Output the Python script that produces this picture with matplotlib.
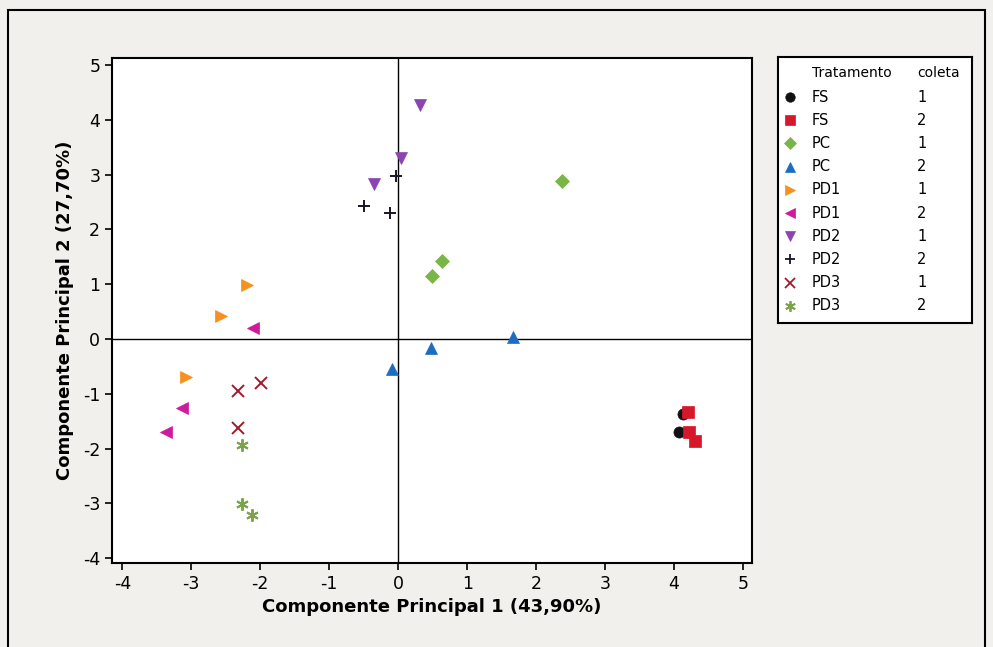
import numpy as np
import matplotlib.pyplot as plt
from matplotlib.patches import Rectangle

plt.rcParams['font.family'] = ['DejaVu Sans']
plt.rcParams['axes.unicode_minus'] = False

# Escores dos componentes principais por tratamento e coleta
fs1_x = [4.07, 4.13]
fs1_y = [-1.70, -1.37]
fs2_x = [4.20, 4.22, 4.30]
fs2_y = [-1.33, -1.70, -1.86]
pc1_x = [2.37, 0.63, 0.49]
pc1_y = [2.88, 1.42, 1.15]
pc2_x = [1.66, 0.47, -0.09]
pc2_y = [0.04, -0.16, -0.55]
pd11_x = [-2.19, -2.57, -3.08]
pd11_y = [0.99, 0.42, -0.69]
pd12_x = [-2.11, -3.13, -3.36]
pd12_y = [0.20, -1.26, -1.70]
pd21_x = [0.32, 0.04, -0.35]
pd21_y = [4.27, 3.30, 2.83]
pd22_x = [-0.03, -0.49, -0.12]
pd22_y = [2.97, 2.43, 2.30]
pd31_x = [-2.33, -1.99, -2.33]
pd31_y = [-0.95, -0.80, -1.62]
pd32_x = [-2.27, -2.27, -2.12]
pd32_y = [-1.93, -3.01, -3.21]

tratamentos = ['FS', 'FS', 'PC', 'PC', 'PD1', 'PD1', 'PD2', 'PD2', 'PD3', 'PD3']
coletas = ['1', '2', '1', '2', '1', '2', '1', '2', '1', '2']

series = [
    (fs1_x, fs1_y, 'o', '#111111', 8),
    (fs2_x, fs2_y, 's', '#d7182a', 8),
    (pc1_x, pc1_y, 'D', '#79b547', 7.5),
    (pc2_x, pc2_y, '^', '#1c6cc2', 9),
    (pd11_x, pd11_y, '>', '#f7901e', 9),
    (pd12_x, pd12_y, '<', '#cc1b9c', 9),
    (pd21_x, pd21_y, 'v', '#8a45b0', 9),
    (pd22_x, pd22_y, '+', '#1a1426', 8),
    (pd31_x, pd31_y, 'x', '#a31a2e', 8),
    (pd32_x, pd32_y, (6, 2, 0), '#7aa34a', 9),
]
linhas = ('+', 'x', (6, 2, 0))

fig = plt.figure(figsize=(9.93, 6.47), dpi=100)
fig.patch.set_facecolor('#f1f0ec')

# moldura externa
fig.add_artist(Rectangle((8 / 993, -0.05), 977 / 993, 1 - 10 / 647 + 0.05,
                         transform=fig.transFigure, fill=False,
                         edgecolor='black', linewidth=1.5))

ax = fig.add_axes([112 / 993, 1 - 563 / 647, 640 / 993, 505 / 647])
ax.set_facecolor('white')

for x, y, m, c, s in series:
    lw = 1.4 if m in linhas else 0.5
    ax.plot(x, y, linestyle='none', marker=m, color=c, markersize=s,
            markeredgewidth=lw, markeredgecolor=c)

ax.axhline(0, color='black', linewidth=1.0, zorder=0)
ax.axvline(0, color='black', linewidth=1.0, zorder=0)

ax.set_xlim(-4.15, 5.13)
ax.set_ylim(-4.09, 5.13)
ax.set_xticks(np.arange(-4, 6, 1))
ax.set_yticks(np.arange(-4, 6, 1))
ax.tick_params(direction='out', length=5, width=1.2, labelsize=12.5)
for sp in ax.spines.values():
    sp.set_linewidth(1.5)

ax.set_xlabel('Componente Principal 1 (43,90%)', fontsize=13, fontweight='bold', labelpad=4)
ax.set_ylabel('Componente Principal 2 (27,70%)', fontsize=13, fontweight='bold', labelpad=6)

# legenda desenhada em eixo próprio
lax = fig.add_axes([778 / 993, 1 - 323 / 647, 194 / 993, 266 / 647])
lax.set_xlim(0, 194)
lax.set_ylim(266, 0)
lax.set_facecolor('white')
lax.set_xticks([])
lax.set_yticks([])
for sp in lax.spines.values():
    sp.set_linewidth(1.5)

lax.text(34, 16, 'Tratamento', fontsize=10, va='center', ha='left')
lax.text(139, 16, 'coleta', fontsize=10, va='center', ha='left')
for i, ((x, y, m, c, s), t, k) in enumerate(zip(series, tratamentos, coletas)):
    yy = 40 + i * 23.2
    lw = 1.3 if m in linhas else 0.5
    lax.plot([12], [yy], linestyle='none', marker=m, color=c,
             markersize=s * 0.85, markeredgewidth=lw, markeredgecolor=c)
    lax.text(34, yy, t, fontsize=10.5, va='center', ha='left')
    lax.text(139, yy, k, fontsize=10.5, va='center', ha='left')

fig.savefig('out.png', dpi=100, facecolor=fig.get_facecolor())
